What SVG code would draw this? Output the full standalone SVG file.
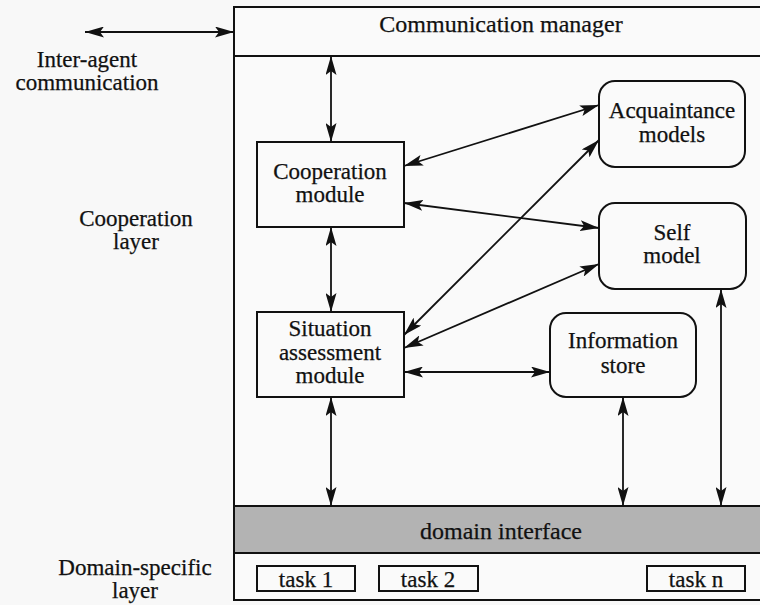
<svg xmlns="http://www.w3.org/2000/svg" width="760" height="605" viewBox="0 0 760 605">
<style>
text{font-family:'Liberation Serif','Times New Roman',serif;font-size:23px;fill:#111;stroke:#111;stroke-width:0.25;text-anchor:middle}
.box{fill:#fafafa;stroke:#111;stroke-width:2}
.conn line{stroke:#111;stroke-width:1.8;marker-start:url(#ah);marker-end:url(#ah)}
</style>
<defs>
<marker id="ah" viewBox="0 0 19 11" refX="19" refY="5.5" markerWidth="19" markerHeight="11" markerUnits="userSpaceOnUse" orient="auto-start-reverse">
<path d="M0,0 L19,5.5 L0,11 L4,5.5 z" fill="#111"/>
</marker>
</defs>
<rect width="760" height="605" fill="#f8f8f8"/>
<g id="frame">
<rect x="234" y="7" width="540" height="593" fill="#fafafa" stroke="#111" stroke-width="2"/>
<line x1="234" y1="56" x2="760" y2="56" stroke="#111" stroke-width="2"/>
</g>
<g id="comm-manager"><text x="501" y="32" style="font-size:24px">Communication manager</text></g>
<g id="domain-interface">
<rect x="234" y="506" width="540" height="47" fill="#b3b3b3" stroke="#111" stroke-width="2"/>
<text x="501" y="539" style="font-size:24px">domain interface</text>
</g>
<g id="label-inter"><text x="87" y="67">Inter-agent</text><text x="87" y="90">communication</text></g>
<g id="label-coop"><text x="136" y="226">Cooperation</text><text x="136" y="249">layer</text></g>
<g id="label-domain"><text x="135" y="575">Domain-specific</text><text x="135" y="598">layer</text></g>
<g id="cooperation-module"><rect class="box" x="257" y="142" width="147" height="85"/><text x="330" y="179">Cooperation</text><text x="330" y="202">module</text></g>
<g id="situation-module"><rect class="box" x="257" y="312" width="147" height="85"/><text x="330" y="336">Situation</text><text x="330" y="360">assessment</text><text x="330" y="383">module</text></g>
<g id="acquaintance-models"><rect class="box" x="599" y="81" width="146" height="86" rx="16"/><text x="672" y="118">Acquaintance</text><text x="672" y="142">models</text></g>
<g id="self-model"><rect class="box" x="599" y="203" width="147" height="86" rx="16"/><text x="672" y="240">Self</text><text x="672" y="263">model</text></g>
<g id="information-store"><rect class="box" x="550" y="313" width="146" height="84" rx="16"/><text x="623" y="348">Information</text><text x="623" y="373">store</text></g>
<g id="task1"><rect class="box" x="257" y="566" width="98" height="25" stroke-width="1.6"/><text x="306" y="587">task 1</text></g>
<g id="task2"><rect class="box" x="379" y="566" width="99" height="25" stroke-width="1.6"/><text x="428" y="587">task 2</text></g>
<g id="taskn"><rect class="box" x="647" y="566" width="98" height="25" stroke-width="1.6"/><text x="696" y="587">task n</text></g>
<g id="connectors" class="conn">
<line x1="85" y1="32" x2="234" y2="32"/>
<line x1="331" y1="56" x2="331" y2="142"/>
<line x1="331" y1="227" x2="331" y2="312"/>
<line x1="331" y1="397" x2="331" y2="506"/>
<line x1="404" y1="166" x2="599" y2="105"/>
<line x1="404" y1="203" x2="599" y2="228"/>
<line x1="404" y1="335" x2="599" y2="140"/>
<line x1="404" y1="348" x2="599" y2="264"/>
<line x1="404" y1="372" x2="550" y2="372"/>
<line x1="623" y1="397" x2="623" y2="506"/>
<line x1="721" y1="289" x2="721" y2="506"/>
</g>
</svg>
